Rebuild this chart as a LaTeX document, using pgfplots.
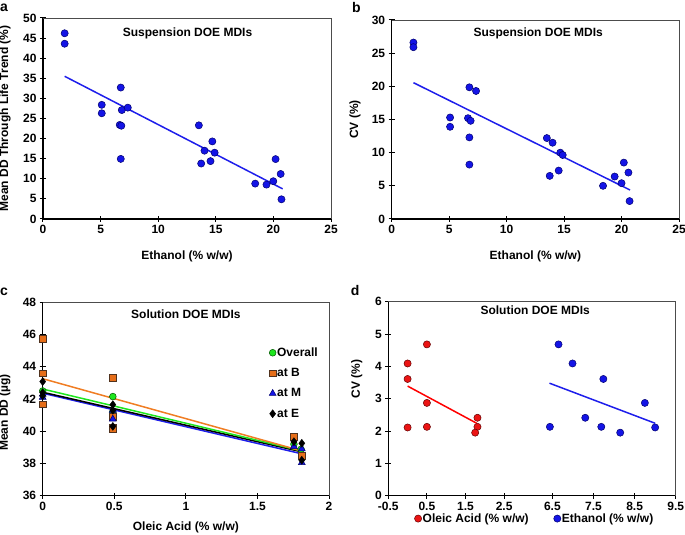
\documentclass[border=0pt]{standalone}
\usepackage{pgfplots}
\pgfplotsset{compat=1.18}
\usepackage{fontspec}
\setmainfont{Liberation Sans}
\definecolor{dblue}{RGB}{20,20,230}
\definecolor{dblueedge}{RGB}{0,0,110}
\definecolor{lblue}{RGB}{30,30,235}
\definecolor{dred}{RGB}{235,20,20}
\definecolor{dredge}{RGB}{100,0,0}
\definecolor{dgreen}{RGB}{30,230,30}
\definecolor{dgreenedge}{RGB}{0,90,0}
\definecolor{dorange}{RGB}{230,110,25}
\definecolor{dorangeedge}{RGB}{80,50,30}
\definecolor{lorange}{RGB}{240,125,35}
\newcommand{\fs}{\fontsize{12}{14}\selectfont\bfseries}
\pgfplotsset{
  myax/.style={
    scale only axis, anchor=south west, clip=false,
    axis x line*=bottom, axis y line*=left,
    axis line style={-, line width=1.3pt, black},
    tick align=center, major tick length=6pt,
    major tick style={line width=1pt, black},
    tick label style={font=\fs},
    label style={font=\fs},
    /pgf/number format/assume math mode=true,
    after end axis/.code={\draw[line width=0.6pt, black!70] (rel axis cs:0,1) -- (rel axis cs:1,1) -- (rel axis cs:1,0);},
    legend image code/.code={\draw[##1] plot coordinates {(0pt,0pt)};},
    legend cell align=left,
  },
  bluedot/.style={only marks, mark=*, mark size=3.6pt, mark options={fill=dblue, draw=dblueedge, line width=0.5pt}},
  reddot/.style={only marks, mark=*, mark size=3.6pt, mark options={fill=dred, draw=dredge, line width=0.5pt}},
  trend/.style={no marks, line width=1.5pt},
}
\begin{document}
\begin{tikzpicture}
\useasboundingbox (0pt,0pt) rectangle (685pt,535pt);
\node[anchor=base west, inner sep=0pt, font=\fontsize{14}{16}\selectfont\bfseries] at (0pt,523pt) {a};
\node[anchor=base west, inner sep=0pt, font=\fontsize{14}{16}\selectfont\bfseries] at (352pt,522.3pt) {b};
\node[anchor=base west, inner sep=0pt, font=\fontsize{14}{16}\selectfont\bfseries] at (0pt,239pt) {c};
\node[anchor=base west, inner sep=0pt, font=\fontsize{14}{16}\selectfont\bfseries] at (350.7pt,239pt) {d};
% panel a
\begin{axis}[myax, at={(43pt,316pt)}, width=288pt, height=201pt,
  xmin=0, xmax=25, ymin=0, ymax=50, xtick={0,5,...,25}, ytick={0,5,...,50},
  xlabel={Ethanol (\% w/w)}, ylabel={Mean DD Through Life Trend (\%)},
  xlabel style={at={(axis description cs:0.5,-0.184)}, anchor=center},
  ylabel style={at={(axis description cs:-0.132,0.5)}, anchor=center},
]
\addplot[bluedot] coordinates {(1.88,46.2) (1.88,43.6) (5.1,28.4) (5.1,26.3) (6.75,32.7) (6.84,27.1) (7.36,27.7) (6.66,23.4) (6.8,23.2) (6.75,14.95) (13.53,23.3) (14.02,17.0) (13.73,13.8) (14.7,19.3) (14.9,16.5) (14.54,14.4) (18.42,8.8) (19.4,8.55) (19.99,9.4) (20.19,14.9) (20.63,11.2) (20.7,4.9)};
\addplot[trend, lblue] coordinates {(1.88,35.5) (20.8,7.5)};
\node[font=\fs] at (axis description cs:0.502,0.925) {Suspension DOE MDIs};
\end{axis}
% panel b
\begin{axis}[myax, at={(391.7pt,316pt)}, width=287.3pt, height=199pt,
  xmin=0, xmax=25, ymin=0, ymax=30, xtick={0,5,...,25}, ytick={0,5,...,30},
  xlabel={Ethanol (\% w/w)}, ylabel={CV (\%)},
  xlabel style={at={(axis description cs:0.5,-0.19)}, anchor=center},
  ylabel style={at={(axis description cs:-0.128,0.5)}, anchor=center},
]
\addplot[bluedot] coordinates {(1.89,26.6) (1.89,25.9) (5.08,15.3) (5.08,13.9) (6.76,19.85) (7.34,19.3) (6.64,15.2) (6.87,14.8) (6.76,12.3) (6.76,8.2) (13.5,12.2) (14.0,11.5) (13.75,6.5) (14.67,10.0) (14.88,9.65) (14.53,7.3) (18.39,5.0) (19.4,6.4) (20.0,5.4) (20.2,8.5) (20.6,7.0) (20.7,2.7)};
\addplot[trend, lblue] coordinates {(1.89,20.55) (20.74,4.37)};
\node[font=\fs] at (axis description cs:0.51,0.933) {Suspension DOE MDIs};
\end{axis}
% panel c
\begin{axis}[myax, at={(42.7pt,39.3pt)}, width=286.3pt, height=193.4pt,
  xmin=0, xmax=2, ymin=36, ymax=48, xtick={0,0.5,1,1.5,2}, ytick={36,38,...,48},
  xlabel={Oleic Acid (\% w/w)}, ylabel={Mean DD (µg)},
  xlabel style={at={(axis description cs:0.5,-0.165)}, anchor=center},
  ylabel style={at={(axis description cs:-0.132,0.43)}, anchor=center},
  legend style={at={(axis description cs:0.78,0.782)}, anchor=north west, draw=none, fill=none, font=\fs, row sep=8.5pt, nodes={inner sep=1pt}},
]
\addplot[only marks, mark=*, mark size=3.4pt, mark options={fill=dgreen, draw=dgreenedge, line width=0.5pt}] coordinates {(0,42.5) (0.49,42.15) (0.49,41.2) (1.755,39.2) (1.805,38.88)};
\addlegendentry{Overall}
\addplot[only marks, mark=square*, mark size=3.3pt, mark options={fill=dorange, draw=dorangeedge, line width=0.5pt}] coordinates {(0,45.75) (0,43.6) (0,41.68) (0.49,43.32) (0.49,40.9) (0.49,40.25) (0.49,40.15) (1.755,39.66) (1.81,38.47)};
\addlegendentry{at B}
\addplot[only marks, mark=triangle*, mark size=4pt, mark options={fill=dblue, draw=dblueedge, line width=0.5pt}] coordinates {(0,42.3) (0,42.1) (0.49,40.75) (0.49,41.3) (1.755,39.05) (1.81,38.05) (1.81,38.9)};
\addlegendentry{at M}
\addplot[only marks, mark=diamond*, mark size=4pt, mark options={fill=black, draw=black}] coordinates {(0,43.08) (0,42.4) (0,42.2) (0.49,41.65) (0.49,41.3) (0.49,40.3) (1.755,39.35) (1.81,39.25) (1.81,38.2)};
\addlegendentry{at E}
\addplot[trend, lblue, forget plot] coordinates {(0,42.36) (1.8,38.62)};
\addplot[trend, black, forget plot] coordinates {(0,42.42) (1.8,38.74)};
\addplot[trend, dgreen, forget plot] coordinates {(0,42.62) (1.8,38.8)};
\addplot[trend, lorange, forget plot] coordinates {(0,43.26) (1.8,38.8)};
\node[font=\fs] at (axis description cs:0.5,0.938) {Solution DOE MDIs};
\end{axis}
% panel d
\begin{axis}[myax, at={(388.3pt,39.3pt)}, width=287.4pt, height=194pt,
  xmin=-0.5, xmax=6.945, ymin=0, ymax=6, ytick={0,1,...,6},
  xtick={-0.5,0.5,1.5,2.5,3.75,4.815,5.88,6.945}, xticklabels={-0.5,0.5,1.5,2.5,6.5,7.5,8.5,9.5},
  ylabel={CV (\%)}, ylabel style={at={(axis description cs:-0.11,0.6)}, anchor=center},
  legend style={at={(axis description cs:0.08,-0.118)}, anchor=west, draw=none, fill=none, legend columns=2, font=\fs, nodes={inner sep=1pt}, /tikz/every even column/.append style={column sep=24pt}},
]
\addplot[reddot] coordinates {(0,4.09) (0,3.61) (0,2.11) (0.5,4.68) (0.5,2.87) (0.5,2.13) (1.81,2.41) (1.81,2.13) (1.75,1.95)};
\addlegendentry{Oleic Acid (\% w/w)}
\addplot[bluedot] table[x expr={3.75+(\thisrow{e}-6.5)*1.065}, y=cv, row sep=\\] {
e cv \\ 6.44 2.13 \\ 6.65 4.68 \\ 6.99 4.09 \\ 7.30 2.41 \\ 7.69 2.13 \\ 7.74 3.61 \\ 8.15 1.95 \\ 8.75 2.87 \\ 9.0 2.11 \\
};
\addlegendentry{Ethanol (\% w/w)}
\addplot[trend, red, forget plot] coordinates {(0,3.39) (1.79,2.24)};
\addplot[trend, lblue, forget plot] table[x expr={3.75+(\thisrow{e}-6.5)*1.065}, y=cv, row sep=\\] {
e cv \\ 6.43 3.48 \\ 9.0 2.24 \\
};
\node[font=\fs] at (axis description cs:0.511,0.954) {Solution DOE MDIs};
\end{axis}
\end{tikzpicture}
\end{document}
